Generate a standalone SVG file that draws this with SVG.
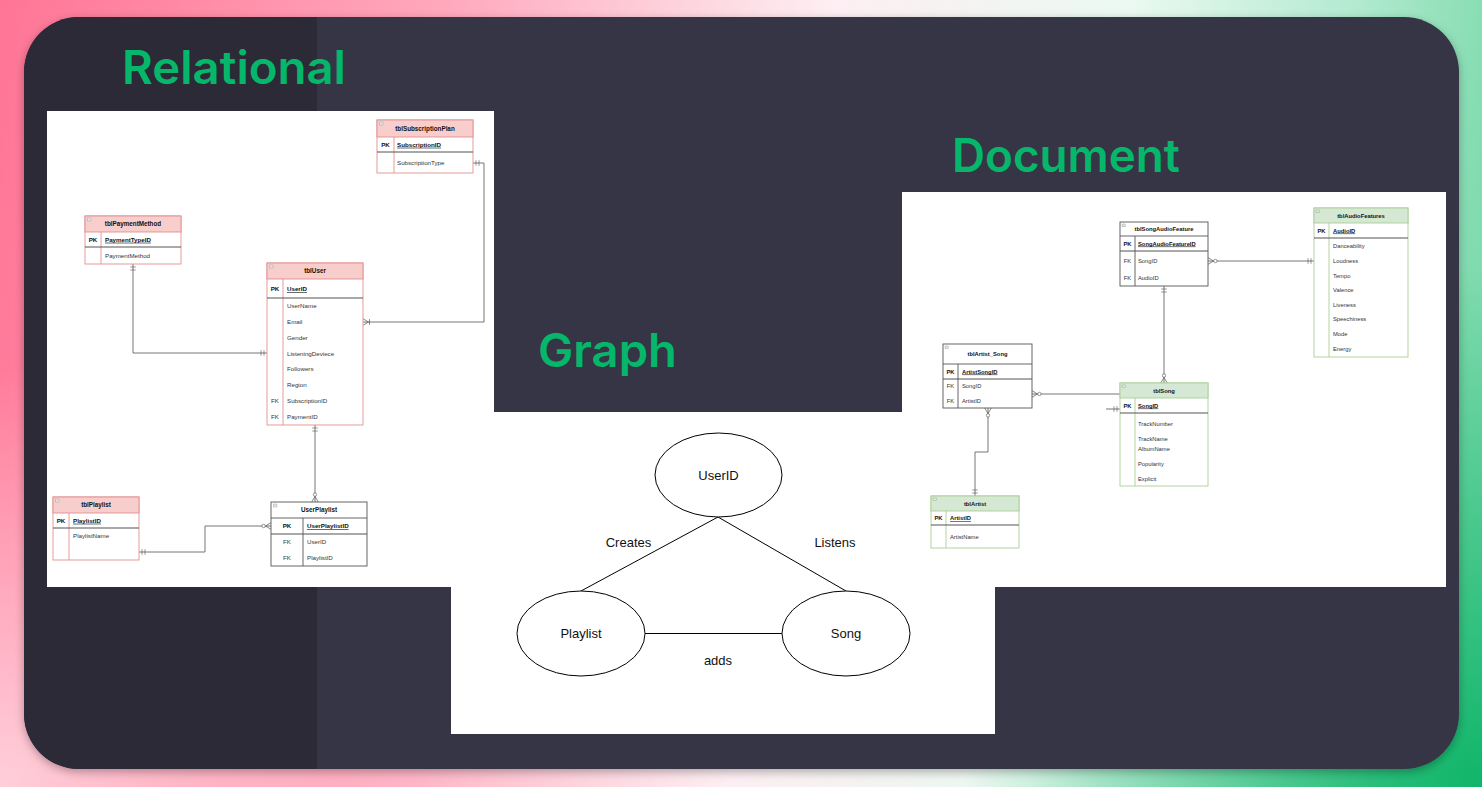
<svg xmlns="http://www.w3.org/2000/svg" width="1482" height="787" viewBox="0 0 1482 787">
<style>
.title{font-family:Inter,"Noto Sans",sans-serif;font-weight:600;fill:#06b66a}
.h{font-family:"Liberation Sans",Arial,sans-serif;font-weight:bold;font-size:6.3px;fill:#111;text-anchor:middle}
.k{font-family:"Liberation Sans",Arial,sans-serif;font-weight:bold;font-size:6.2px;fill:#111;text-anchor:middle}
.fk{font-family:"Liberation Sans",Arial,sans-serif;font-size:6.2px;fill:#333;text-anchor:middle}
.pk{font-family:"Liberation Sans",Arial,sans-serif;font-weight:bold;font-size:6.2px;fill:#111;text-decoration:underline}
.f{font-family:"Liberation Sans",Arial,sans-serif;font-size:6.2px;fill:#333}
.d .h,.d .k,.d .fk,.d .pk,.d .f{font-size:5.8px}
.rb{fill:#fff;stroke:#e0908f;stroke-width:0.9}
.rh{fill:#f8cecc;stroke:#e0908f;stroke-width:0.9}
.gb{fill:#fff;stroke:#a9cf94;stroke-width:0.9}
.gh{fill:#d5e8d4;stroke:#a9cf94;stroke-width:0.9}
.wb{fill:#fff;stroke:#555;stroke-width:0.9}
.rs{stroke:#e0908f;stroke-width:0.9}
.gs{stroke:#a9cf94;stroke-width:0.9}
.ws{stroke:#555;stroke-width:0.9}
.sep{stroke:#555;stroke-width:1.1}
.ic{fill:#e4e4e4;stroke:#999;stroke-width:0.4}
.cn{fill:none;stroke:#666;stroke-width:0.9}
.ge{fill:#fff;stroke:#000;stroke-width:1}
.gl{stroke:#000;stroke-width:1}
.gt{font-family:"Liberation Sans",Arial,sans-serif;font-size:13px;fill:#111;text-anchor:middle}
</style>
<defs>
<linearGradient id="bg" x1="0" y1="0" x2="1482" y2="200" gradientUnits="userSpaceOnUse">
<stop offset="0" stop-color="#ff7596"/>
<stop offset="0.3" stop-color="#ffa9bd"/>
<stop offset="0.55" stop-color="#fdeef2"/>
<stop offset="0.75" stop-color="#eaf9f1"/>
<stop offset="0.9" stop-color="#b2eacf"/>
<stop offset="1" stop-color="#80dbae"/>
</linearGradient>
<radialGradient id="bl" cx="0" cy="787" r="420" gradientUnits="userSpaceOnUse">
<stop offset="0" stop-color="#ffd3dd" stop-opacity="0.95"/>
<stop offset="1" stop-color="#ffd3dd" stop-opacity="0"/>
</radialGradient>
<radialGradient id="br" cx="1482" cy="787" r="520" gradientUnits="userSpaceOnUse">
<stop offset="0" stop-color="#10b56a" stop-opacity="1"/>
<stop offset="1" stop-color="#10b56a" stop-opacity="0"/>
</radialGradient>
<clipPath id="pc"><rect x="24" y="17" width="1435" height="752" rx="55"/></clipPath>
<filter id="sh" x="-5%" y="-5%" width="110%" height="112%"><feDropShadow dx="0" dy="3" stdDeviation="5" flood-color="#000" flood-opacity="0.3"/></filter>
<marker id="one" viewBox="0 -4 10 8" refX="10" refY="0" markerWidth="10" markerHeight="8" markerUnits="userSpaceOnUse" orient="auto-start-reverse">
<path d="M4,-2.8V2.8M7,-2.8V2.8" stroke="#555" stroke-width="0.6" fill="none"/>
</marker>
<marker id="zmany" viewBox="0 -4 10 8" refX="10" refY="0" markerWidth="10" markerHeight="8" markerUnits="userSpaceOnUse" orient="auto-start-reverse">
<path d="M10,-3.3L4.5,0L10,3.3" stroke="#555" stroke-width="0.7" fill="none"/>
<circle cx="2.6" cy="0" r="1.7" fill="#fff" stroke="#555" stroke-width="0.6"/>
</marker>
<marker id="omany" viewBox="0 -4 10 8" refX="10" refY="0" markerWidth="10" markerHeight="8" markerUnits="userSpaceOnUse" orient="auto-start-reverse">
<path d="M10,-3.3L4.5,0L10,3.3M3.5,-2.8V2.8" stroke="#555" stroke-width="0.7" fill="none"/>
</marker>
</defs>

<rect x="0" y="0" width="1482" height="787" fill="url(#bg)"/>
<rect x="0" y="0" width="1482" height="787" fill="url(#bl)"/>
<rect x="0" y="0" width="1482" height="787" fill="url(#br)"/>

<g id="panel">
<rect x="24" y="17" width="1435" height="752" rx="55" fill="#363545" filter="url(#sh)"/>
<rect x="24" y="17" width="293" height="752" fill="#2b2a36" clip-path="url(#pc)"/>
</g>

<g id="titles">
<text class="title" x="122" y="84" font-size="46" textLength="224" lengthAdjust="spacingAndGlyphs">Relational</text>
<text class="title" x="952" y="172" font-size="46" textLength="228" lengthAdjust="spacingAndGlyphs">Document</text>
<text class="title" x="538" y="367" font-size="46" textLength="139" lengthAdjust="spacingAndGlyphs">Graph</text>
</g>

<rect id="relational-bg" x="47" y="111" width="447" height="476" fill="#fff"/>
<rect id="graph-bg" x="451" y="412" width="544" height="322" fill="#fff"/>
<rect id="document-bg" x="902" y="192" width="544" height="395" fill="#fff"/>

<g id="rel-connectors">
<path class="cn" d="M473,163H484V322H363" marker-start="url(#one)" marker-end="url(#omany)"/>
<path class="cn" d="M133,264V353H267" marker-start="url(#one)" marker-end="url(#one)"/>
<path class="cn" d="M315,425V502" marker-start="url(#one)" marker-end="url(#zmany)"/>
<path class="cn" d="M139,552H205V526H271" marker-start="url(#one)" marker-end="url(#zmany)"/>
</g>

<g id="tblSubscriptionPlan">
<rect x="377" y="120" width="96" height="53" class="rb"/>
<rect x="377" y="120" width="96" height="17" class="rh"/>
<line x1="394" y1="137" x2="394" y2="173" class="rs"/>
<line x1="377" y1="152" x2="473" y2="152" class="sep"/>
<rect x="379.5" y="122" width="3.5" height="3" class="ic"/>
<text x="425" y="130.7" class="h">tblSubscriptionPlan</text>
<text x="385.5" y="146.7" class="k">PK</text>
<text x="397" y="146.7" class="pk">SubscriptionID</text>
<text x="397" y="164.7" class="f">SubscriptionType</text>
</g>

<g id="tblPaymentMethod">
<rect x="85" y="216" width="96" height="48" class="rb"/>
<rect x="85" y="216" width="96" height="16" class="rh"/>
<line x1="101" y1="232" x2="101" y2="264" class="rs"/>
<line x1="85" y1="247" x2="181" y2="247" class="sep"/>
<rect x="87.5" y="218" width="3.5" height="3" class="ic"/>
<text x="133" y="226.2" class="h">tblPaymentMethod</text>
<text x="93" y="241.7" class="k">PK</text>
<text x="105" y="241.7" class="pk">PaymentTypeID</text>
<text x="105" y="257.7" class="f">PaymentMethod</text>
</g>

<g id="tblUser">
<rect x="267" y="263" width="96" height="162" class="rb"/>
<rect x="267" y="263" width="96" height="16" class="rh"/>
<line x1="283" y1="279" x2="283" y2="425" class="rs"/>
<line x1="267" y1="298" x2="363" y2="298" class="sep"/>
<rect x="269.5" y="265" width="3.5" height="3" class="ic"/>
<text x="315" y="273.2" class="h">tblUser</text>
<text x="275" y="291.2" class="k">PK</text>
<text x="287" y="291.2" class="pk">UserID</text>
<text x="287" y="308.2" class="f">UserName</text>
<text x="287" y="324.2" class="f">Email</text>
<text x="287" y="340.2" class="f">Gender</text>
<text x="287" y="356.2" class="f">ListeningDeviece</text>
<text x="287" y="371.2" class="f">Followers</text>
<text x="287" y="387.2" class="f">Region</text>
<text x="275" y="403.2" class="fk">FK</text>
<text x="287" y="403.2" class="f">SubscriptionID</text>
<text x="275" y="419.2" class="fk">FK</text>
<text x="287" y="419.2" class="f">PaymentID</text>
</g>

<g id="tblPlaylist">
<rect x="53" y="497" width="86" height="63" class="rb"/>
<rect x="53" y="497" width="86" height="16" class="rh"/>
<line x1="69" y1="513" x2="69" y2="560" class="rs"/>
<line x1="53" y1="528" x2="139" y2="528" class="sep"/>
<rect x="55.5" y="499" width="3.5" height="3" class="ic"/>
<text x="96" y="507.2" class="h">tblPlaylist</text>
<text x="61" y="522.7" class="k">PK</text>
<text x="73" y="522.7" class="pk">PlaylistID</text>
<text x="73" y="538.2" class="f">PlaylistName</text>
</g>

<g id="UserPlaylist">
<rect x="271" y="502" width="96" height="64" class="wb"/>
<line x1="271" y1="518" x2="367" y2="518" class="ws"/>
<line x1="303" y1="518" x2="303" y2="566" class="ws"/>
<line x1="271" y1="534" x2="367" y2="534" class="sep"/>
<rect x="273.5" y="504" width="3.5" height="3" class="ic"/>
<text x="319" y="512.2" class="h">UserPlaylist</text>
<text x="287" y="528.2" class="k">PK</text>
<text x="307" y="528.2" class="pk">UserPlaylistID</text>
<text x="287" y="544.2" class="fk">FK</text>
<text x="307" y="544.2" class="f">UserID</text>
<text x="287" y="559.7" class="fk">FK</text>
<text x="307" y="559.7" class="f">PlaylistID</text>
</g>

<g id="graph-connectors">
<line class="gl" x1="718" y1="517" x2="581" y2="591"/>
<line class="gl" x1="718" y1="517" x2="846" y2="591"/>
<line class="gl" x1="645" y1="633.5" x2="782" y2="633.5"/>
<text class="gt" x="628.5" y="546.5">Creates</text>
<text class="gt" x="835" y="546.5">Listens</text>
<text class="gt" x="718" y="664.5">adds</text>
</g>
<g id="node-UserID">
<ellipse class="ge" cx="718.5" cy="475" rx="63.5" ry="42"/>
<text class="gt" x="718.5" y="479.5">UserID</text>
</g>
<g id="node-Playlist">
<ellipse class="ge" cx="581" cy="633.5" rx="64" ry="42.5"/>
<text class="gt" x="581" y="638">Playlist</text>
</g>
<g id="node-Song">
<ellipse class="ge" cx="846" cy="633.5" rx="64" ry="42.5"/>
<text class="gt" x="846" y="638">Song</text>
</g>

<g id="doc-connectors">
<path class="cn" d="M1208,261H1314" marker-start="url(#zmany)" marker-end="url(#one)"/>
<path class="cn" d="M1164,286V383" marker-start="url(#one)" marker-end="url(#zmany)"/>
<path class="cn" d="M1032,394H1120" marker-start="url(#zmany)"/>
<path class="cn" d="M1106,409H1120" marker-end="url(#one)"/>
<path class="cn" d="M988,408V452H975V496" marker-start="url(#zmany)" marker-end="url(#one)"/>
</g>

<g class="d">
<g id="tblSongAudioFeature">
<rect x="1120" y="222" width="88" height="64" class="wb"/>
<line x1="1120" y1="236" x2="1208" y2="236" class="ws"/>
<line x1="1135" y1="236" x2="1135" y2="286" class="ws"/>
<line x1="1120" y1="251" x2="1208" y2="251" class="sep"/>
<rect x="1122" y="224" width="3.2" height="2.8" class="ic"/>
<text x="1164" y="231" class="h">tblSongAudioFeature</text>
<text x="1127.5" y="245.5" class="k">PK</text>
<text x="1138" y="245.5" class="pk">SongAudioFeatureID</text>
<text x="1127.5" y="262.5" class="fk">FK</text>
<text x="1138" y="262.5" class="f">SongID</text>
<text x="1127.5" y="279.5" class="fk">FK</text>
<text x="1138" y="279.5" class="f">AudioID</text>
</g>

<g id="tblAudioFeatures">
<rect x="1314" y="208" width="94" height="149" class="gb"/>
<rect x="1314" y="208" width="94" height="15" class="gh"/>
<line x1="1329" y1="223" x2="1329" y2="357" class="gs"/>
<line x1="1314" y1="238" x2="1408" y2="238" class="sep"/>
<rect x="1316" y="210" width="3.2" height="2.8" class="ic"/>
<text x="1361" y="217.5" class="h">tblAudioFeatures</text>
<text x="1321.5" y="232.5" class="k">PK</text>
<text x="1333" y="232.5" class="pk">AudioID</text>
<text x="1333" y="248" class="f">Danceability</text>
<text x="1333" y="263" class="f">Loudness</text>
<text x="1333" y="277.5" class="f">Tempo</text>
<text x="1333" y="292" class="f">Valence</text>
<text x="1333" y="307" class="f">Liveness</text>
<text x="1333" y="321" class="f">Speechiness</text>
<text x="1333" y="336" class="f">Mode</text>
<text x="1333" y="351" class="f">Energy</text>
</g>

<g id="tblArtist_Song">
<rect x="943" y="344" width="89" height="64" class="wb"/>
<line x1="943" y1="364" x2="1032" y2="364" class="ws"/>
<line x1="958" y1="364" x2="958" y2="408" class="ws"/>
<line x1="943" y1="379" x2="1032" y2="379" class="sep"/>
<rect x="945" y="346" width="3.2" height="2.8" class="ic"/>
<text x="987.5" y="355.5" class="h">tblArtist_Song</text>
<text x="950.5" y="373.5" class="k">PK</text>
<text x="962" y="373.5" class="pk">ArtistSongID</text>
<text x="950.5" y="388" class="fk">FK</text>
<text x="962" y="388" class="f">SongID</text>
<text x="950.5" y="403" class="fk">FK</text>
<text x="962" y="403" class="f">ArtistID</text>
</g>

<g id="tblSong">
<rect x="1120" y="383" width="88" height="103" class="gb"/>
<rect x="1120" y="383" width="88" height="15" class="gh"/>
<line x1="1135" y1="398" x2="1135" y2="486" class="gs"/>
<line x1="1120" y1="413" x2="1208" y2="413" class="sep"/>
<rect x="1122" y="385" width="3.2" height="2.8" class="ic"/>
<text x="1164" y="392.5" class="h">tblSong</text>
<text x="1127.5" y="407.5" class="k">PK</text>
<text x="1138" y="407.5" class="pk">SongID</text>
<text x="1138" y="426" class="f">TrackNumber</text>
<text x="1138" y="441" class="f">TrackName</text>
<text x="1138" y="451" class="f">AlbumName</text>
<text x="1138" y="466" class="f">Popularity</text>
<text x="1138" y="481" class="f">Explicit</text>
</g>

<g id="tblArtist">
<rect x="931" y="496" width="88" height="52" class="gb"/>
<rect x="931" y="496" width="88" height="15" class="gh"/>
<line x1="946" y1="511" x2="946" y2="548" class="gs"/>
<line x1="931" y1="525" x2="1019" y2="525" class="sep"/>
<rect x="933" y="498" width="3.2" height="2.8" class="ic"/>
<text x="975" y="505.5" class="h">tblArtist</text>
<text x="938.5" y="520" class="k">PK</text>
<text x="950" y="520" class="pk">ArtistID</text>
<text x="950" y="539" class="f">ArtistName</text>
</g>
</g>
</svg>
